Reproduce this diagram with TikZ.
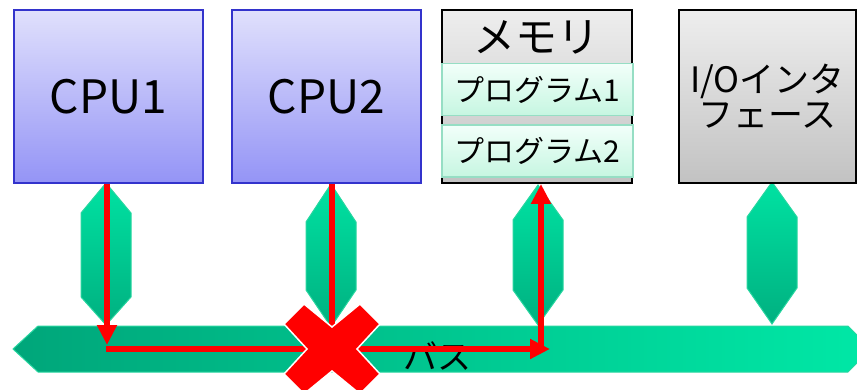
\documentclass[tikz,border=0pt]{standalone}
\usepackage{fontspec}
\setmainfont{Noto Sans CJK JP}
\usetikzlibrary{shapes, arrows.meta, calc, positioning}

\definecolor{cputop}{RGB}{224,224,252}
\definecolor{cpubot}{RGB}{148,148,246}
\definecolor{cpuline}{RGB}{51,51,204}
\definecolor{graytop}{RGB}{238,238,238}
\definecolor{graybot}{RGB}{194,194,194}
\definecolor{progtop}{RGB}{242,255,250}
\definecolor{progbot}{RGB}{198,246,225}
\definecolor{progline}{RGB}{150,222,196}
\definecolor{linktop}{RGB}{0,226,162}
\definecolor{linkbot}{RGB}{0,176,128}
\definecolor{linkline}{RGB}{40,214,160}
\definecolor{busleft}{RGB}{0,166,122}
\definecolor{busright}{RGB}{0,232,166}

\begin{document}
\begin{tikzpicture}[x=1pt, y=-1pt, >={Triangle[length=20pt, width=19pt]}]
	\tikzstyle{unit} = [draw, line width=2pt, minimum height=173pt, inner sep=0pt, text=black]
	\tikzstyle{cpu} = [unit, draw=cpuline, top color=cputop, bottom color=cpubot, minimum width=189pt, font=\fontsize{46}{50}\selectfont]
	\tikzstyle{dev} = [unit, draw=black, top color=graytop, bottom color=graybot]
	\tikzstyle{prog} = [draw=progline, line width=1.5pt, top color=progtop, bottom color=progbot, minimum width=191pt, minimum height=52pt, inner sep=0pt, font=\fontsize{30}{32}\selectfont]
	\tikzstyle{link} = [draw=linkline, line width=1pt, top color=linktop, bottom color=linkbot]
	\tikzstyle{signal} = [red, line width=5.5pt]

	\useasboundingbox (0,0) rectangle (857,390);
	\clip (0,0) rectangle (857,390);

	% bus
	\shade[draw=linkline, line width=1pt, left color=busleft, right color=busright]
		(13,349) -- (38,326) -- (848,326) -- (871,349) -- (848,372) -- (38,372) -- cycle;
	\node[font=\fontsize{34}{36}\selectfont] (bus) at (437,356) {バス};

	% links to the bus
	\foreach \x/\a/\b/\c/\d in {106/183/213/297/325, 331/184/222/290/327, 538/185/220/290/325, 772/182/217/288/324}
		\shade[link] (\x,\a) -- (\x+25,\b) -- (\x+25,\c) -- (\x,\d) -- (\x-25,\c) -- (\x-25,\b) -- cycle;

	% units
	\node[cpu] (cpu1) at (108.5,96.5) {CPU1};
	\node[cpu] (cpu2) at (326.5,96.5) {CPU2};
	\node[dev, minimum width=190pt] (mem) at (537,96.5) {};
	\node[font=\fontsize{42}{44}\selectfont] (memname) at (536,37) {メモリ};
	\node[prog] (prog1) at (537.5,89.5) {プログラム1};
	\node[prog] (prog2) at (537.5,151) {プログラム2};
	\node[dev, minimum width=177pt, align=center, font=\fontsize{35}{35}\selectfont] (io) at (767.5,96.5) {I/Oインタ\\フェース};

	% data path
	\coordinate (turn) at (107,349);
	\coordinate (memtap) at (541,349);
	\coordinate (cross) at (332,349);
	\draw[signal, ->] (cpu1.south -| turn) -- ($(turn)+(0,-4)$);
	\draw[signal, ->] ($(turn)+(-1,0)$) -- ($(memtap)+(9,0)$);
	\draw[signal, ->] ($(memtap)+(0,2.7)$) -- (memtap |- mem.south);
	\draw[signal] (cross |- cpu2.south) -- (cross);

	% blocked
	\path[fill=red, draw=white, line width=1.5pt, shift={(cross)}]
		(0,-22) -- (28,-45) -- (48,-25) -- (25,0) -- (48,25) -- (28,45) -- (0,22)
		-- (-28,45) -- (-48,25) -- (-25,0) -- (-48,-25) -- (-28,-45) -- cycle;
\end{tikzpicture}
\end{document}
